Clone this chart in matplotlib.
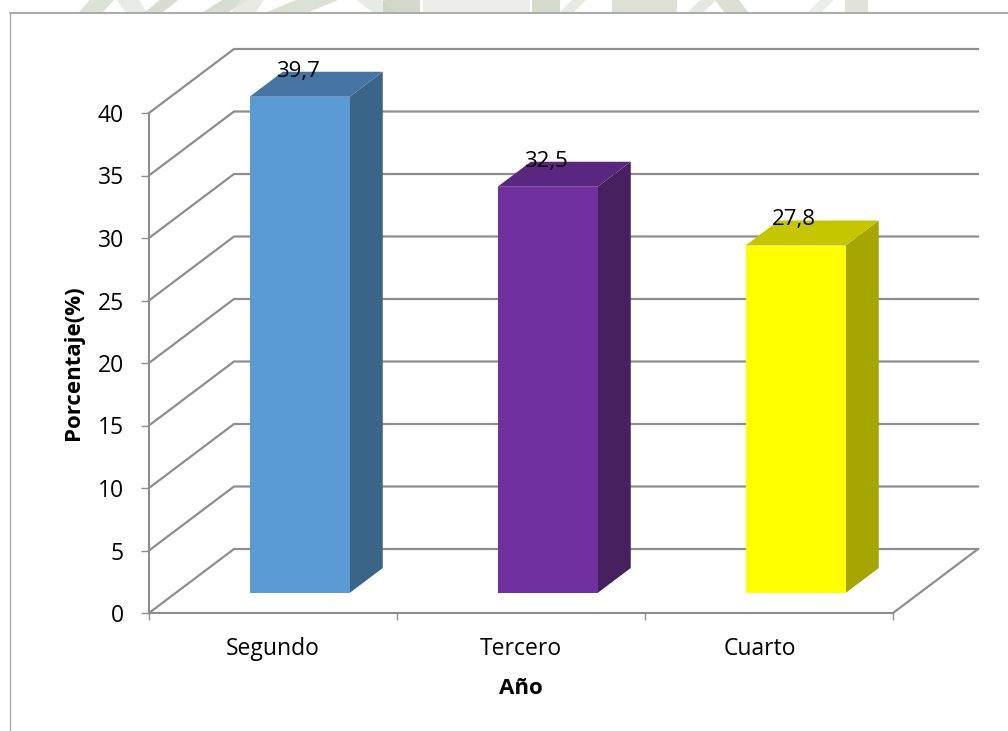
import matplotlib
matplotlib.use("Agg")
import matplotlib.pyplot as plt
from matplotlib.patches import Polygon

categories = ["Segundo", "Tercero", "Cuarto"]
category_label_pos = [0.5, 1.498, 2.462]
values = [39.7, 32.5, 27.8]
labels = ["39,7", "32,5", "27,8"]
yticks = [0, 5, 10, 15, 20, 25, 30, 35, 40]
front_colors = ["#5B9BD5", "#7030A0", "#FFFF00"]
side_colors = ["#3A6587", "#46205F", "#A6A600"]
top_colors = ["#4674A3", "#5A2780", "#C6C600"]

# faint watermark peeking out above the chart frame (x at bottom, x at top, width, colour)
watermark = [
    (79, 90, 24, "#D5DBCE"), (125, 117, 22, "#E4E8E0"), (145, 160, 18, "#CDD4C4"),
    (203, 222, 26, "#CED5C6"), (232, 240, 24, "#E3E7DF"), (267, 296, 42, "#D3DACB"),
    (372, 357, 24, "#E2E6DF"), (383, 383, 37, "#C8D0BD"), (423, 423, 107, "#E6EAE4"),
    (532, 532, 28, "#CBD2C1"), (560, 572, 14, "#E1E5DD"), (612, 612, 65, "#D4D9CE"),
    (688, 700, 16, "#DFE3DA"), (724, 715, 24, "#D2D7CC"), (808, 820, 14, "#E6E9E3"),
    (845, 845, 23, "#D8DCD3"),
]

W, H = 1008, 731
GRID = "#8E8E8E"
FONT = ["Open Sans", "DejaVu Sans"]
plt.rcParams["font.family"] = FONT

fig = plt.figure(figsize=(W / 100, H / 100), dpi=100, facecolor="white")

for xb, xt, w, c in watermark:
    fig.add_artist(Polygon([(xb / W, 1 - 12 / H), (xt / W, 1), ((xt + w) / W, 1), ((xb + w) / W, 1 - 12 / H)],
                           fc=c, ec="none", alpha=0.8, transform=fig.transFigure))

# axes box = front plane of the 3-D chart
L, R, T, B = 149, 893, 113, 613
ax = fig.add_axes([L / W, 1 - B / H, (R - L) / W, (B - T) / H])
ax.set_xlim(0, 3)
ax.set_ylim(0, 40)
ax.patch.set_alpha(0)
for s in ["top", "right"]:
    ax.spines[s].set_visible(False)
for s in ["left", "bottom"]:
    ax.spines[s].set_color(GRID)
    ax.spines[s].set_linewidth(1.5)

DX = 85 / 248   # depth in category units
DY = 64 / 12.5  # depth in value units

def d(x, y, f):
    """Point at depth fraction f."""
    return (x + DX * f, y + DY * f)

# walls / gridlines
for v in yticks:
    ax.plot(*zip(d(0, v, 0), d(0, v, 1), d(3, v, 1)), color=GRID, lw=1.6,
            clip_on=False, zorder=1, solid_joinstyle="miter")
ax.plot(*zip(d(3, 0, 0), d(3, 0, 1)), color=GRID, lw=1.6, clip_on=False, zorder=1)

# bars
BW = 100 / 248
F0, F1 = 20 / 64, 45 / 64
for i, v in enumerate(values):
    x0 = i + 0.5 - BW / 2
    x1 = x0 + BW
    ax.add_patch(Polygon([d(x1, 0, F0), d(x1, 0, F1), d(x1, v, F1), d(x1, v, F0)],
                         fc=side_colors[i], ec="none", clip_on=False, zorder=3))
    ax.add_patch(Polygon([d(x0, v, F0), d(x1, v, F0), d(x1, v, F1), d(x0, v, F1)],
                         fc=top_colors[i], ec="none", clip_on=False, zorder=3))
    ax.add_patch(Polygon([d(x0, 0, F0), d(x1, 0, F0), d(x1, v, F0), d(x0, v, F0)],
                         fc=front_colors[i], ec="none", clip_on=False, zorder=4))
    cx, cy = d(i + 0.5, v, F0)
    ax.annotate(labels[i], (cx, cy), xytext=(-1.3, 14.5), textcoords="offset points",
                ha="center", va="baseline", fontsize=16, color="black", zorder=5,
                annotation_clip=False)

ax.set_xticks([0, 1, 2, 3])
ax.set_xticklabels([])
ax.set_xticks(category_label_pos, minor=True)
ax.set_xticklabels(categories, minor=True, fontsize=16.5)
ax.tick_params(axis="x", which="major", length=5, width=1, color=GRID)
ax.tick_params(axis="x", which="minor", length=0, pad=17)
ax.set_yticks(yticks)
ax.tick_params(axis="y", length=6, width=1, color=GRID, labelsize=16.5, pad=12)
ax.set_xlabel("Año", fontsize=16, fontweight="bold")
ax.xaxis.set_label_coords((521 - L) / (R - L), -(688 - B) / (B - T))
ax.set_ylabel("Porcentaje(%)", fontsize=16, fontweight="bold")
ax.yaxis.set_label_coords((74 - L) / (R - L), (B - 363) / (B - T))
ax.xaxis.label.set_va("center")
ax.yaxis.label.set_va("center")

# chart frame
fig.add_artist(plt.Line2D([10 / W, 1], [1 - 12.5 / H, 1 - 12.5 / H], color="#929292", lw=1.1))
fig.add_artist(plt.Line2D([10 / W, 10 / W], [0, 1 - 12.5 / H], color="#ABABAB", lw=1))

fig.savefig("out.png", dpi=100, facecolor="white")
